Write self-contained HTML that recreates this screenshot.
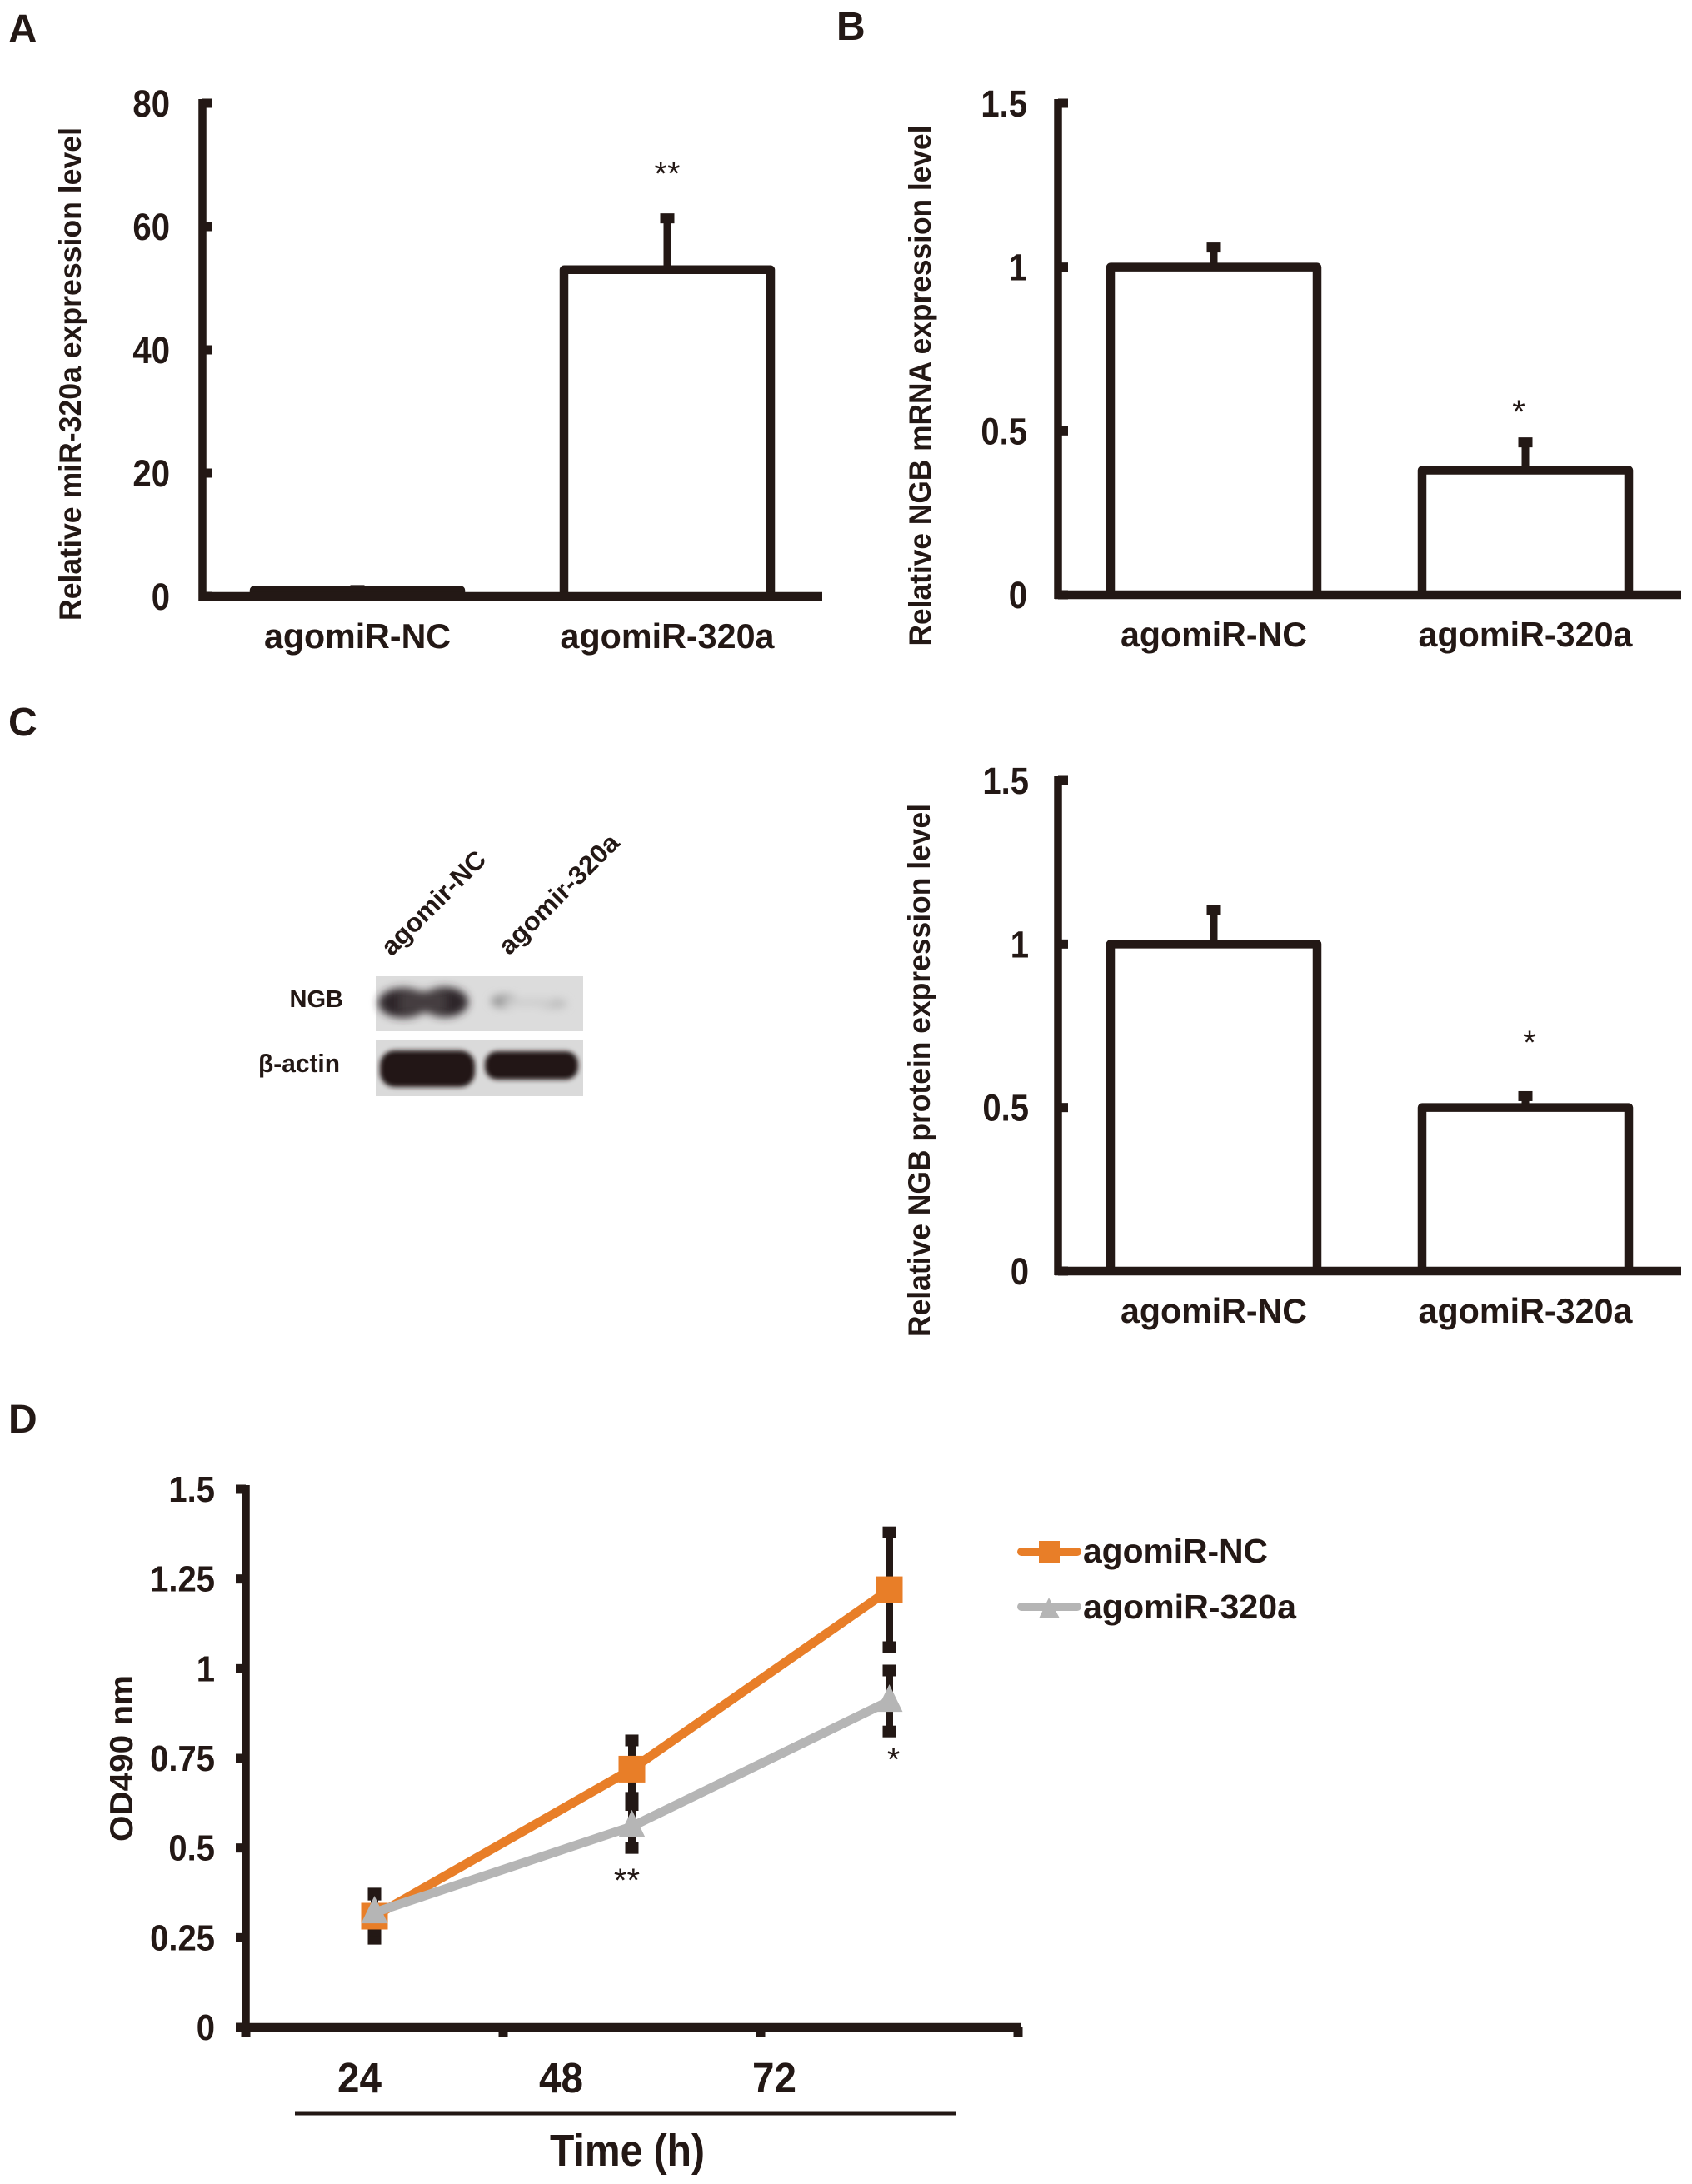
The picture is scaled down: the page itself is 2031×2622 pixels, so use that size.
<!DOCTYPE html>
<html lang="en">
<head>
<meta charset="utf-8">
<title>agomiR-320a expression, NGB levels and cell viability</title>
<style>
html,body{margin:0;padding:0;background:#fff;width:2031px;height:2622px;overflow:hidden}
svg{display:block}
text{font-family:"Liberation Sans",sans-serif;fill:#231815}
.bold{font-weight:700}
</style>
</head>
<body>
<svg id="figure" xmlns="http://www.w3.org/2000/svg" width="2031" height="2622" viewBox="0 0 2031 2622">
  <defs>
    <filter id="blur6" x="-30%" y="-60%" width="160%" height="220%"><feGaussianBlur stdDeviation="5"/></filter>
    <filter id="blur3" x="-30%" y="-60%" width="160%" height="220%"><feGaussianBlur stdDeviation="3"/></filter>
  </defs>
  <rect width="2031" height="2622" fill="#fff"/>

  <text class="bold" x="10" y="51" font-size="48">A</text>
  <text class="bold" x="1004" y="48" font-size="48">B</text>
  <text class="bold" x="10" y="883" font-size="48">C</text>
  <text class="bold" x="10" y="1720" font-size="48">D</text>

  <g id="western-blot">
    <text class="bold" transform="translate(470 1149) rotate(-45)" font-size="31" textLength="163" lengthAdjust="spacingAndGlyphs">agomir-NC</text>
    <text class="bold" transform="translate(611 1148) rotate(-45)" font-size="31" textLength="190" lengthAdjust="spacingAndGlyphs">agomir-320a</text>
    <text class="bold" x="412" y="1209" text-anchor="end" font-size="29">NGB</text>
    <text class="bold" x="408" y="1287" text-anchor="end" font-size="31" textLength="98" lengthAdjust="spacingAndGlyphs">β-actin</text>
    <rect x="451" y="1172" width="249" height="66" fill="#dcdcdc"/>
    <rect x="451" y="1249" width="249" height="67" fill="#dadada"/>
    <g filter="url(#blur6)">
      <ellipse cx="484" cy="1204" rx="30" ry="18" fill="#2f2629"/>
      <ellipse cx="534" cy="1203" rx="28" ry="18" fill="#2f2629"/>
      <rect x="480" y="1190" width="55" height="26" fill="#453d40"/>
    </g>
    <g filter="url(#blur6)">
      <ellipse cx="605" cy="1202" rx="16" ry="8" fill="#9a9a9a"/>
      <ellipse cx="663" cy="1205" rx="18" ry="6" fill="#bdbdbd"/>
      <rect x="605" y="1199" width="58" height="9" fill="#cdcdcd"/>
    </g>
    <g filter="url(#blur3)">
      <rect x="456" y="1261" width="114" height="44" rx="18" fill="#231815"/>
    </g>
    <g filter="url(#blur3)">
      <rect x="582" y="1262" width="112" height="34" rx="15" fill="#231815"/>
    </g>
  </g>

  <g id="legend">
    <g>
      <line x1="1226" y1="1863" x2="1293" y2="1863" stroke="#e87e28" stroke-width="10" stroke-linecap="round"/>
      <rect x="1247" y="1850" width="25" height="26" fill="#e87e28"/>
      <text class="bold" x="1300" y="1876" font-size="41" textLength="222" lengthAdjust="spacingAndGlyphs">agomiR-NC</text>
    </g>
    <g>
      <line x1="1226" y1="1929" x2="1293" y2="1929" stroke="#b5b5b5" stroke-width="10" stroke-linecap="round"/>
      <polygon points="1259,1918 1272,1943 1247,1943" fill="#b5b5b5"/>
      <text class="bold" x="1300" y="1943" font-size="41" textLength="256" lengthAdjust="spacingAndGlyphs">agomiR-320a</text>
    </g>
  </g>
</svg>

<script>
const barCategories = ['agomiR-NC', 'agomiR-320a'];

const panelATicks = [0, 20, 40, 60, 80];
const panelAValues = [1, 53];
const panelAErrors = [0.3, 8.6];

const panelBTicks = [0, 0.5, 1, 1.5];
const panelBValues = [1, 0.38];
const panelBErrors = [0.065, 0.09];

const panelCTicks = [0, 0.5, 1, 1.5];
const panelCValues = [1, 0.5];
const panelCErrors = [0.11, 0.04];

const timeCategories = ['24', '48', '72'];
const odTicks = ['0', '0.25', '0.5', '0.75', '1', '1.25', '1.5'];
const ncValues = [0.31, 0.72, 1.22];
const ncErrors = [0.063, 0.08, 0.16];
const a320Values = [0.32, 0.56, 0.91];
const a320Errors = [0.05, 0.06, 0.085];

const INK = '#231815';
const ORANGE = '#e87e28';
const GRAY = '#b5b5b5';
const svg = document.getElementById('figure');

function mk(tag, attrs, parent) {
  const n = document.createElementNS('http://www.w3.org/2000/svg', tag);
  for (const k in attrs) n.setAttribute(k, attrs[k]);
  (parent || svg).appendChild(n);
  return n;
}
function linearY(yZero, yTop, max) {
  return v => yZero - (v / max) * (yZero - yTop);
}
function tickWidth(label) {
  let w = 0;
  for (const ch of String(label)) w += ch === '.' ? 11 : 22.3;
  return w;
}

function drawBarPanel(id, cfg, ticks, values, errors) {
  const g = mk('g', {});
  
  
  const max = ticks[ticks.length - 1];
  const y = linearY(cfg.yZero, cfg.yTop, max);
  const band = (cfg.xEnd - cfg.x0) / values.length;
  const xC = i => cfg.x0 + (i + 0.5) * band;
  const bw = 248;

  values.forEach((v, i) => {
    const top = y(v + errors[i]);
    const stem = mk('line', {x1: xC(i), x2: xC(i), y1: y(v), y2: top, stroke: INK, 'stroke-width': 9}, g);
    
    
    const cap = mk('rect', {x: xC(i) - 8.5, y: top - 4, width: 17, height: 12, fill: INK}, g);
    
    
    const bar = mk('path', {
      d: 'M' + (xC(i) - bw / 2) + ' ' + cfg.yZero + 'V' + y(v) + 'H' + (xC(i) + bw / 2) + 'V' + cfg.yZero,
      fill: '#fff', stroke: INK, 'stroke-width': 10.5, 'stroke-linejoin': 'round'
    }, g);
    
    
    const lab = mk('text', {x: xC(i), y: cfg.catY, 'text-anchor': 'middle', 'font-size': 42, 'font-weight': 700,
      textLength: i === 0 ? 224 : 257, lengthAdjust: 'spacingAndGlyphs'}, g);
    lab.textContent = barCategories[i];
    
    
  });

  const yAxis = mk('line', {x1: cfg.x0, x2: cfg.x0, y1: cfg.yTop - 5, y2: cfg.yZero + 5, stroke: INK, 'stroke-width': 9.5}, g);
  
  
  const xAxis = mk('line', {x1: cfg.x0 - 4, x2: cfg.xEnd, y1: cfg.yZero, y2: cfg.yZero, stroke: INK, 'stroke-width': 10.5}, g);
  
  

  ticks.forEach(t => {
    const m = mk('rect', {x: cfg.x0, y: y(t) - 5.5, width: 12, height: 11, fill: INK}, g);
    
    
    const l = mk('text', {x: cfg.tickX, y: y(t) + 16, 'text-anchor': 'end', 'font-size': 45, 'font-weight': 700,
      textLength: tickWidth(t), lengthAdjust: 'spacingAndGlyphs'}, g);
    l.textContent = String(t);
    
    
  });

  const title = mk('text', {
    transform: 'translate(' + cfg.titleX + ' ' + cfg.titleY + ') rotate(-90)',
    'text-anchor': 'middle', 'font-size': 37, 'font-weight': 700,
    textLength: cfg.titleLen, lengthAdjust: 'spacingAndGlyphs'
  }, g);
  title.textContent = cfg.title;
  
  

  const star = mk('text', {x: cfg.starX, y: cfg.starY, 'text-anchor': 'middle', 'font-size': 40, fill: '#333'}, g);
  star.textContent = cfg.star;
  
  
}

drawBarPanel('panel-a-chart', {x0: 243, xEnd: 987, yZero: 716, yTop: 124, catY: 778, tickX: 204,
  titleX: 97, titleY: 449, titleLen: 592, title: 'Relative miR-320a expression level', star: '**', starX: 801, starY: 222},
  panelATicks, panelAValues, panelAErrors);

drawBarPanel('panel-b-chart', {x0: 1270, xEnd: 2018, yZero: 714, yTop: 124, catY: 776, tickX: 1233,
  titleX: 1117, titleY: 463, titleLen: 625, title: 'Relative NGB mRNA expression level', star: '*', starX: 1823, starY: 508},
  panelBTicks, panelBValues, panelBErrors);

drawBarPanel('panel-c-chart', {x0: 1270, xEnd: 2018, yZero: 1526, yTop: 937, catY: 1588, tickX: 1235,
  titleX: 1116, titleY: 1285, titleLen: 640, title: 'Relative NGB protein expression level', star: '*', starX: 1836, starY: 1265},
  panelCTicks, panelCValues, panelCErrors);

function drawLinePanel() {
  const g = mk('g', {});
  
  
  const x0 = 295, xEnd = 1222, yZero = 2434, yTop = 1788;
  const y = linearY(yZero, yTop, Number(odTicks[odTicks.length - 1]));
  const band = (xEnd - x0) / timeCategories.length;
  const x = i => x0 + (i + 0.5) * band;
  const labelShift = [-18, -85, -138];

  const yAxis = mk('line', {x1: x0, x2: x0, y1: yTop - 5, y2: yZero, stroke: INK, 'stroke-width': 9.5}, g);
  
  
  const xAxis = mk('line', {x1: x0 - 4, x2: xEnd + 4, y1: yZero, y2: yZero, stroke: INK, 'stroke-width': 10.5}, g);
  
  

  odTicks.forEach(t => {
    const v = Number(t);
    const m = mk('rect', {x: x0 - 12, y: y(v) - 5.5, width: 12, height: 11, fill: INK}, g);
    
    
    const l = mk('text', {x: 258, y: y(v) + 15, 'text-anchor': 'end', 'font-size': 44, 'font-weight': 700,
      textLength: tickWidth(t), lengthAdjust: 'spacingAndGlyphs'}, g);
    l.textContent = t;
    
    
  });

  for (let i = 0; i <= timeCategories.length; i++) {
    const m = mk('rect', {x: x0 + i * band - 5.5, y: yZero, width: 11, height: 12, fill: INK}, g);
    
    
  }

  timeCategories.forEach((c, i) => {
    const l = mk('text', {x: x(i) + labelShift[i], y: 2512, 'text-anchor': 'middle', 'font-size': 51, 'font-weight': 700,
      textLength: 53, lengthAdjust: 'spacingAndGlyphs'}, g);
    l.textContent = c;
    
    
  });

  const rule = mk('line', {x1: 354, x2: 1147, y1: 2537, y2: 2537, stroke: INK, 'stroke-width': 5}, g);
  
  

  const xTitle = mk('text', {x: 753, y: 2600, 'text-anchor': 'middle', 'font-size': 54, 'font-weight': 700, textLength: 186, lengthAdjust: 'spacingAndGlyphs'}, g);
  xTitle.textContent = 'Time (h)';
  
  

  const yTitle = mk('text', {transform: 'translate(159 2111) rotate(-90)', 'text-anchor': 'middle', 'font-size': 39, 'font-weight': 700, textLength: 200, lengthAdjust: 'spacingAndGlyphs'}, g);
  yTitle.textContent = 'OD490 nm';
  
  

  function errorBars(values, errors, label) {
    values.forEach((v, i) => {
      const hi = y(v + errors[i]), lo = y(v - errors[i]);
      const s = mk('line', {x1: x(i), x2: x(i), y1: hi, y2: lo, stroke: INK, 'stroke-width': 9}, g);
      
      
      [hi, lo].forEach(c => {
        const r = mk('rect', {x: x(i) - 8, y: c - 7, width: 16, height: 14, fill: INK}, g);
        
        
      });
    });
  }
  function seriesLine(values, color, label) {
    const pts = values.map((v, i) => x(i) + ',' + y(v)).join(' ');
    const l = mk('polyline', {points: pts, fill: 'none', stroke: color, 'stroke-width': 11, 'stroke-linejoin': 'round'}, g);
    
    
  }

  errorBars(ncValues, ncErrors, 'agomir-nc');
  errorBars(a320Values, a320Errors, 'agomir-320a');
  seriesLine(ncValues, ORANGE, 'agomir-nc');
  ncValues.forEach((v, i) => {
    const m = mk('rect', {x: x(i) - 16, y: y(v) - 16, width: 32, height: 32, fill: ORANGE}, g);
    
    
  });
  seriesLine(a320Values, GRAY, 'agomir-320a');
  a320Values.forEach((v, i) => {
    const px = x(i), py = y(v);
    const m = mk('polygon', {points: px + ',' + (py - 20) + ' ' + (px + 16) + ',' + (py + 13) + ' ' + (px - 16) + ',' + (py + 13), fill: GRAY}, g);
    
    
  });

  const star2 = mk('text', {x: x(1) - 6, y: 2271, 'text-anchor': 'middle', 'font-size': 40, fill: '#333'}, g);
  star2.textContent = '**';
  
  
  const star1 = mk('text', {x: x(2) + 5, y: 2126, 'text-anchor': 'middle', 'font-size': 40, fill: '#333'}, g);
  star1.textContent = '*';
  
  
}
drawLinePanel();
</script>
</body>
</html>
